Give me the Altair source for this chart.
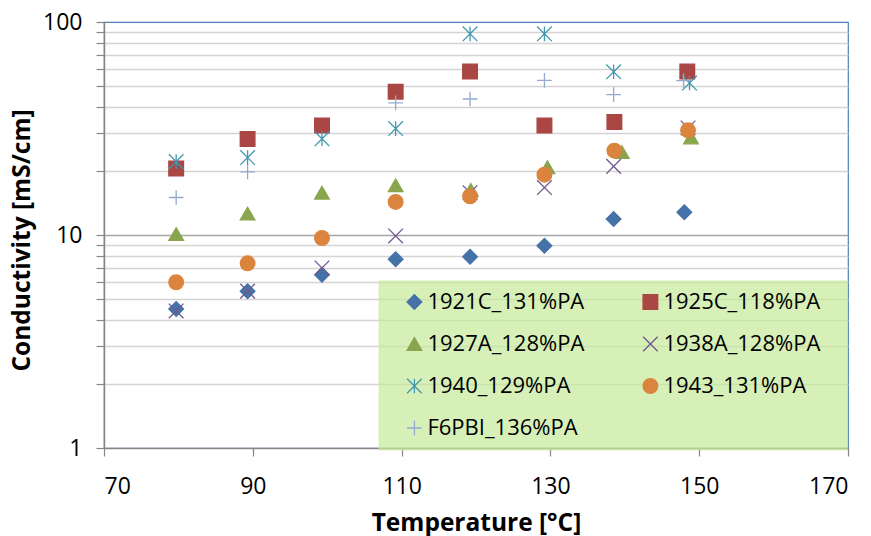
import altair as alt
import pandas as pd

# ---- data ----
series_names = ["1921C_131%PA", "1925C_118%PA", "1927A_128%PA", "1938A_128%PA",
                "1940_129%PA", "1943_131%PA", "F6PBI_136%PA"]

temps_1921C = [79.7, 89.3, 99.3, 109.2, 119.2, 129.2, 138.5, 148.0]
cond_1921C = [4.49, 5.45, 6.5, 7.7, 7.9, 8.9, 11.9, 12.8]

temps_1925C = [79.7, 89.3, 99.3, 109.2, 119.2, 129.2, 138.6, 148.4]
cond_1925C = [20.5, 28.2, 32.7, 47.1, 58.6, 32.7, 33.9, 58.6]

temps_1927A = [79.7, 89.3, 99.3, 109.2, 119.3, 129.6, 139.6, 148.9]
cond_1927A = [10.1, 12.6, 15.8, 17.1, 16.3, 20.8, 24.5, 28.7]

temps_1938A = [79.7, 89.3, 99.3, 109.2, 119.2, 129.2, 138.5, 148.5]
cond_1938A = [4.4, 5.45, 7.0, 9.9, 15.8, 16.7, 21.0, 31.8]

temps_1940 = [79.7, 89.3, 99.3, 109.2, 119.2, 129.2, 138.5, 148.7]
cond_1940 = [22.1, 23.1, 28.3, 31.6, 88.0, 88.0, 58.4, 51.7]

temps_1943 = [79.7, 89.3, 99.3, 109.2, 119.2, 129.2, 138.6, 148.5]
cond_1943 = [6.0, 7.36, 9.68, 14.3, 15.2, 19.2, 24.9, 31.0]

temps_F6PBI = [79.7, 89.3, 109.2, 119.2, 129.2, 138.5, 147.9]
cond_F6PBI = [15.0, 19.8, 41.7, 43.5, 53.2, 45.6, 53.1]

x_ticks = [70, 90, 110, 130, 150, 170]
y_ticks = [1, 2, 3, 4, 5, 6, 7, 8, 9, 10, 20, 30, 40, 50, 60, 70, 80, 90, 100]

# ---- styling ----
stroke_colors = ["#4572A7", "#AA4643", "#89A54E", "#71588F", "#4198AF", "#DB843D", "#93A9CF"]
fill_colors = ["#4572A7", "#AA4643", "#89A54E", "transparent", "transparent", "#DB843D", "transparent"]
X_PATH = "M-1,-1L1,1M-1,1L1,-1"
STAR_PATH = "M-1,-1L1,1M-1,1L1,-1M0,-1L0,1"
PLUS_PATH = "M-1,0L1,0M0,-1L0,1"
shapes = ["diamond", "square", "triangle-up", X_PATH, STAR_PATH, "circle", PLUS_PATH]

all_temps = [temps_1921C, temps_1925C, temps_1927A, temps_1938A, temps_1940, temps_1943, temps_F6PBI]
all_conds = [cond_1921C, cond_1925C, cond_1927A, cond_1938A, cond_1940, cond_1943, cond_F6PBI]

rows = []
for name, ts, cs in zip(series_names, all_temps, all_conds):
    for t, c in zip(ts, cs):
        rows.append({"series": name, "temperature": t, "conductivity": c})
df = pd.DataFrame(rows)

FONT = "Open Sans"
NB = "\u00a0"

legend = alt.Legend(direction="horizontal")

chart = alt.Chart(df).mark_point(size=215, strokeWidth=1.3, opacity=1).encode(
    x=alt.X("temperature:Q",
            scale=alt.Scale(domain=[70, 170], nice=False, zero=False),
            axis=alt.Axis(values=x_ticks, grid=False, title="Temperature [°C]",
                          labelPadding=19, titleY=82, titleBaseline="alphabetic")),
    y=alt.Y("conductivity:Q",
            scale=alt.Scale(type="log", domain=[1, 100], nice=False),
            axis=alt.Axis(values=y_ticks,
                          labelExpr="(datum.value == 1 || datum.value == 10 || datum.value == 100) ? format(datum.value, 'd') : ''",
                          title="Conductivity [mS/cm]",
                          gridColor={"condition": {"test": "datum.value == 10", "value": "#A6A6A6"}, "value": "#D4D4D4"},
                          gridOpacity={"condition": {"test": "datum.value == 100 || datum.value == 1", "value": 0}, "value": 1},
                          labelPadding=14, titleX=-75, titleY=218, titleBaseline="alphabetic",
                          titleAlign="center", titleAngle=270)),
    shape=alt.Shape("series:N", scale=alt.Scale(domain=series_names, range=shapes), title=NB, legend=legend),
    stroke=alt.Stroke("series:N", scale=alt.Scale(domain=series_names, range=stroke_colors), title=NB, legend=legend),
    fill=alt.Fill("series:N", scale=alt.Scale(domain=series_names, range=fill_colors), title=NB, legend=legend),
).properties(
    width=744, height=426,
    autosize=alt.AutoSizeParams(type="none"),
    padding={"left": 104, "top": 22, "right": 23, "bottom": 88},
).configure_view(
    stroke="#4F81BD", strokeWidth=1.2
).configure_axis(
    domainColor="#868686", domainWidth=1.5,
    tickColor="#868686", tickSize=8, tickWidth=1.2,
    gridWidth=1.3,
    labelFont=FONT, labelFontSize=23, labelColor="#000000",
    titleFont=FONT, titleFontSize=24.5, titleFontWeight="bold", titleColor="#000000",
).configure_legend(
    orient="none", legendX=274, legendY=258,
    columns=2, columnPadding=40, rowPadding=20,
    padding=11, fillColor="rgba(198,234,154,0.7)", strokeColor="transparent",
    titleOrient="right", titleFontSize=1, titlePadding=16,
    symbolOffset=14.4,
    symbolSize=215, symbolStrokeWidth=1.3,
    labelFont=FONT, labelFontSize=22, labelColor="#000000", labelOffset=2,
    labelLimit=400,
)

chart.save("out.html", embed_options={"renderer": "svg", "actions": False})
